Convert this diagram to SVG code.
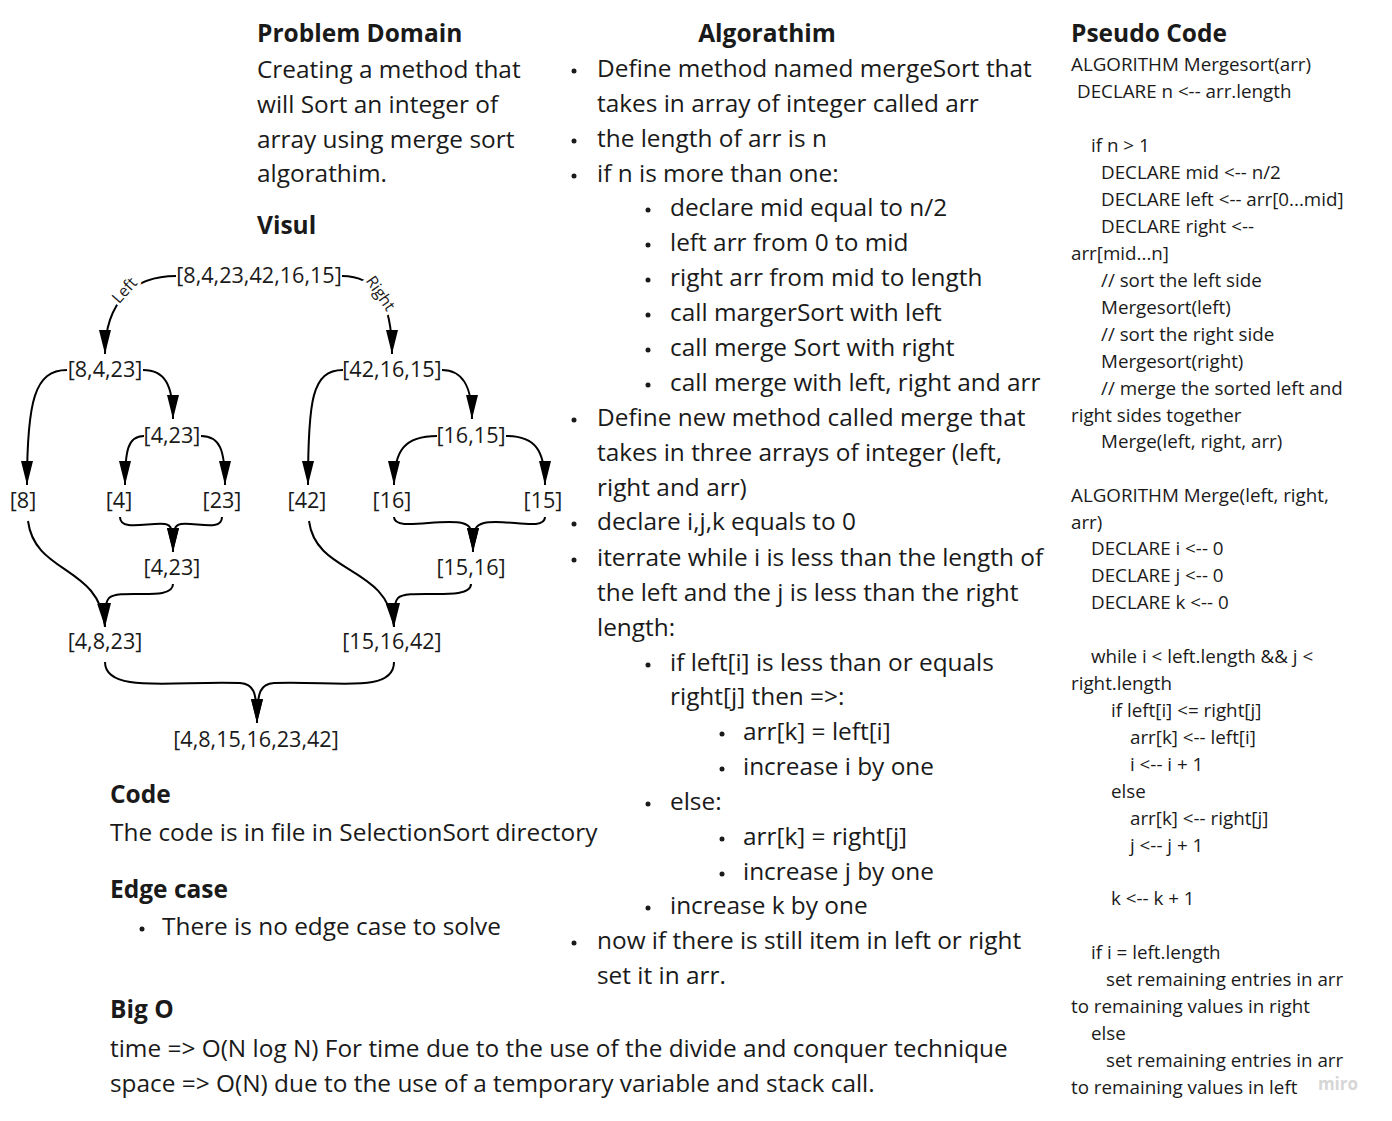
<svg xmlns="http://www.w3.org/2000/svg" width="1392" height="1121" viewBox="0 0 1392 1121">
<defs>
<style>
text{font-family:"Open Sans","Noto Sans","Liberation Sans",sans-serif;fill:#1a1a1a}
.h{font-size:24.5px;font-weight:bold}
.b{font-size:24.4px}
.p{font-size:18.8px}
.n{font-size:21.6px;text-anchor:middle}
.lbl{font-size:16px;text-anchor:middle;stroke:#fff;stroke-width:6px;paint-order:stroke}
.dot{fill:#1a1a1a}
.c{fill:none;stroke:#000;stroke-width:2;marker-end:url(#ah)}
</style>
<marker id="ah" viewBox="0 0 24 12" refX="24" refY="6" markerWidth="24" markerHeight="12" markerUnits="userSpaceOnUse" orient="auto">
<path d="M0,0 L24,6 L0,12 z" fill="#000"/>
</marker>
</defs>
<rect width="1392" height="1121" fill="#fff"/>

<g id="problem-domain">
<text class="h" x="257" y="42">Problem Domain</text>
<text class="b" x="257" y="78">Creating a method that</text>
<text class="b" x="257" y="113">will Sort an integer of</text>
<text class="b" x="257" y="148">array using merge sort</text>
<text class="b" x="257" y="182">algorathim.</text>
<text class="h" x="257" y="234">Visul</text>
</g>

<g id="connectors">
<path class="c" d="M176,276 C135,276 105,300 105,354"/>
<path class="c" d="M342,276 C375,276 392,300 392,354"/>
<path class="c" d="M67,370 C35,370 27,400 27,485"/>
<path class="c" d="M143,370 C165,370 173,385 173,419"/>
<path class="c" d="M144,436 C128,436 125,450 125,485"/>
<path class="c" d="M201,436 C220,436 225,450 225,485"/>
<path class="c" d="M343,370 C312,370 308,400 308,485"/>
<path class="c" d="M442,370 C462,370 472,385 472,419"/>
<path class="c" d="M437,436 C405,436 394,450 394,485"/>
<path class="c" d="M506,436 C535,436 545,450 545,485"/>
<path class="c" d="M120,517 C120,532 150,522 165,524 C171,525 173,527 173,552"/>
<path class="c" d="M222,517 C222,532 195,522 181,524 C175,525 173,527 173,552"/>
<path class="c" d="M394,517 C394,532 440,518 462,523 C470,525 473,527 473,552"/>
<path class="c" d="M545,517 C545,532 505,518 484,523 C476,525 473,527 473,552"/>
<path class="c" d="M28,521 C35,575 100,565 105,627"/>
<path class="c" d="M173,584 C173,602 120,588 109,598 C105,603 105,610 105,627"/>
<path class="c" d="M309,521 C316,575 388,565 394,627"/>
<path class="c" d="M471,584 C471,602 408,588 398,598 C394,603 394,610 394,627"/>
<path class="c" d="M105,662 C105,695 180,680 240,683 C253,684 257,690 257,723"/>
<path class="c" d="M394,662 C394,695 330,680 274,683 C261,684 257,690 257,723"/>
<text class="lbl" x="124" y="296" transform="rotate(-48 124 290)">Left</text>
<text class="lbl" x="381" y="299" transform="rotate(55 381 293)">Right</text>
</g>

<g id="n-root"><text class="n" x="259" y="283">[8,4,23,42,16,15]</text></g>
<g id="n-l"><text class="n" x="105" y="377">[8,4,23]</text></g>
<g id="n-r"><text class="n" x="392" y="377">[42,16,15]</text></g>
<g id="n-l2"><text class="n" x="172" y="443">[4,23]</text></g>
<g id="n-r2"><text class="n" x="471" y="443">[16,15]</text></g>
<g id="n-8"><text class="n" x="23" y="508">[8]</text></g>
<g id="n-4"><text class="n" x="119" y="508">[4]</text></g>
<g id="n-23"><text class="n" x="222" y="508">[23]</text></g>
<g id="n-42"><text class="n" x="307" y="508">[42]</text></g>
<g id="n-16"><text class="n" x="392" y="508">[16]</text></g>
<g id="n-15"><text class="n" x="543" y="508">[15]</text></g>
<g id="n-m1"><text class="n" x="172" y="575">[4,23]</text></g>
<g id="n-m2"><text class="n" x="471" y="575">[15,16]</text></g>
<g id="n-m3"><text class="n" x="105" y="649">[4,8,23]</text></g>
<g id="n-m4"><text class="n" x="392" y="649">[15,16,42]</text></g>
<g id="n-final"><text class="n" x="256" y="747">[4,8,15,16,23,42]</text></g>

<g id="algorithm">
<text class="h" x="767" y="42" text-anchor="middle">Algorathim</text>
<circle class="dot" cx="574" cy="71" r="2.5"/><text class="b" x="597" y="77">Define method named mergeSort that</text>
<text class="b" x="597" y="112">takes in array of integer called arr</text>
<circle class="dot" cx="574" cy="141" r="2.5"/><text class="b" x="597" y="147">the length of arr is n</text>
<circle class="dot" cx="574" cy="176" r="2.5"/><text class="b" x="597" y="182">if n is more than one:</text>
<circle class="dot" cx="648" cy="210" r="2.5"/><text class="b" x="670" y="216">declare mid equal to n/2</text>
<circle class="dot" cx="648" cy="245" r="2.5"/><text class="b" x="670" y="251">left arr from 0 to mid</text>
<circle class="dot" cx="648" cy="280" r="2.5"/><text class="b" x="670" y="286">right arr from mid to length</text>
<circle class="dot" cx="648" cy="315" r="2.5"/><text class="b" x="670" y="321">call margerSort with left</text>
<circle class="dot" cx="648" cy="350" r="2.5"/><text class="b" x="670" y="356">call merge Sort with right</text>
<circle class="dot" cx="648" cy="385" r="2.5"/><text class="b" x="670" y="391">call merge with left, right and arr</text>
<circle class="dot" cx="574" cy="420" r="2.5"/><text class="b" x="597" y="426">Define new method called merge that</text>
<text class="b" x="597" y="461">takes in three arrays of integer (left,</text>
<text class="b" x="597" y="496">right and arr)</text>
<circle class="dot" cx="574" cy="524" r="2.5"/><text class="b" x="597" y="530">declare i,j,k equals to 0</text>
<circle class="dot" cx="574" cy="560" r="2.5"/><text class="b" x="597" y="566">iterrate while i is less than the length of</text>
<text class="b" x="597" y="601">the left and the j is less than the right</text>
<text class="b" x="597" y="636">length:</text>
<circle class="dot" cx="648" cy="665" r="2.5"/><text class="b" x="670" y="671">if left[i] is less than or equals</text>
<text class="b" x="670" y="705">right[j] then =&gt;:</text>
<circle class="dot" cx="722" cy="734" r="2.5"/><text class="b" x="743" y="740">arr[k] = left[i]</text>
<circle class="dot" cx="722" cy="769" r="2.5"/><text class="b" x="743" y="775">increase i by one</text>
<circle class="dot" cx="648" cy="804" r="2.5"/><text class="b" x="670" y="810">else:</text>
<circle class="dot" cx="722" cy="839" r="2.5"/><text class="b" x="743" y="845">arr[k] = right[j]</text>
<circle class="dot" cx="722" cy="874" r="2.5"/><text class="b" x="743" y="880">increase j by one</text>
<circle class="dot" cx="648" cy="908" r="2.5"/><text class="b" x="670" y="914">increase k by one</text>
<circle class="dot" cx="574" cy="943" r="2.5"/><text class="b" x="597" y="949">now if there is still item in left or right</text>
<text class="b" x="597" y="984">set it in arr.</text>
</g>

<g id="code">
<text class="h" x="110" y="803">Code</text>
<text class="b" x="110" y="841">The code is in file in SelectionSort directory</text>
<text class="h" x="110" y="898">Edge case</text>
<circle class="dot" cx="142" cy="929" r="2.5"/><text class="b" x="162" y="935">There is no edge case to solve</text>
<text class="h" x="110" y="1018">Big O</text>
<text class="b" x="110" y="1057">time =&gt; O(N log N) For time due to the use of the divide and conquer technique</text>
<text class="b" x="110" y="1092">space =&gt; O(N) due to the use of a temporary variable and stack call.</text>
</g>

<g id="pseudo-code">
<text class="h" x="1071" y="42">Pseudo Code</text>
<text class="p" x="1071" y="71">ALGORITHM Mergesort(arr)</text>
<text class="p" x="1077" y="98">DECLARE n &lt;-- arr.length</text>
<text class="p" x="1091" y="152">if n &gt; 1</text>
<text class="p" x="1101" y="179">DECLARE mid &lt;-- n/2</text>
<text class="p" x="1101" y="206">DECLARE left &lt;-- arr[0...mid]</text>
<text class="p" x="1101" y="233">DECLARE right &lt;--</text>
<text class="p" x="1071" y="260">arr[mid...n]</text>
<text class="p" x="1101" y="287">// sort the left side</text>
<text class="p" x="1101" y="314">Mergesort(left)</text>
<text class="p" x="1101" y="341">// sort the right side</text>
<text class="p" x="1101" y="368">Mergesort(right)</text>
<text class="p" x="1101" y="395">// merge the sorted left and</text>
<text class="p" x="1071" y="422">right sides together</text>
<text class="p" x="1101" y="448">Merge(left, right, arr)</text>
<text class="p" x="1071" y="502">ALGORITHM Merge(left, right,</text>
<text class="p" x="1071" y="529">arr)</text>
<text class="p" x="1091" y="555">DECLARE i &lt;-- 0</text>
<text class="p" x="1091" y="582">DECLARE j &lt;-- 0</text>
<text class="p" x="1091" y="609">DECLARE k &lt;-- 0</text>
<text class="p" x="1091" y="663">while i &lt; left.length &amp;&amp; j &lt;</text>
<text class="p" x="1071" y="690">right.length</text>
<text class="p" x="1111" y="717">if left[i] &lt;= right[j]</text>
<text class="p" x="1130" y="744">arr[k] &lt;-- left[i]</text>
<text class="p" x="1130" y="771">i &lt;-- i + 1</text>
<text class="p" x="1111" y="798">else</text>
<text class="p" x="1130" y="825">arr[k] &lt;-- right[j]</text>
<text class="p" x="1130" y="852">j &lt;-- j + 1</text>
<text class="p" x="1111" y="905">k &lt;-- k + 1</text>
<text class="p" x="1091" y="959">if i = left.length</text>
<text class="p" x="1106" y="986">set remaining entries in arr</text>
<text class="p" x="1071" y="1013">to remaining values in right</text>
<text class="p" x="1091" y="1040">else</text>
<text class="p" x="1106" y="1067">set remaining entries in arr</text>
<text class="p" x="1071" y="1094">to remaining values in left</text>
</g>

<text x="1338" y="1090" text-anchor="middle" style="font-size:17px;font-weight:bold;fill:#d6d6d6">miro</text>
</svg>
